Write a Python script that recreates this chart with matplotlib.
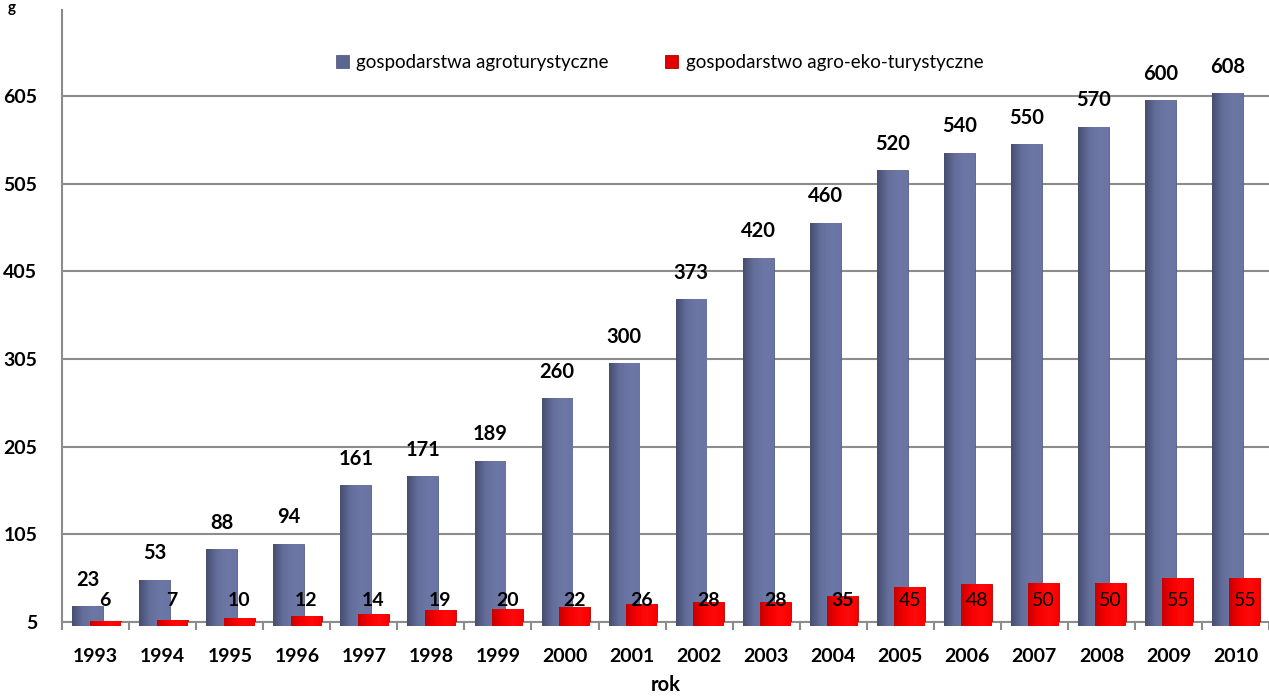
import matplotlib
matplotlib.use("Agg")
import matplotlib.pyplot as plt
from matplotlib.colors import LinearSegmentedColormap
import numpy as np

plt.rcParams['font.family'] = ['Lato', 'DejaVu Sans']

years = ['1993', '1994', '1995', '1996', '1997', '1998', '1999', '2000', '2001',
         '2002', '2003', '2004', '2005', '2006', '2007', '2008', '2009', '2010']
agro = [23, 53, 88, 94, 161, 171, 189, 260, 300, 373, 420, 460, 520, 540, 550, 570, 600, 608]
eko = [6, 7, 10, 12, 14, 19, 20, 22, 26, 28, 28, 35, 45, 48, 50, 50, 55, 55]
yticks = [5, 105, 205, 305, 405, 505, 605]

blue = '#67719d'
red = '#f20000'
grid_c = '#8c8c8c'

fig = plt.figure(figsize=(12.69, 6.97), dpi=100)
ax = fig.add_axes([0.049, 0.1076, 0.951, 0.878])

x = np.arange(len(years))
w = 0.46
b1 = ax.bar(x - 0.12, agro, w, color=blue, edgecolor='#555e85', linewidth=0.6,
            label='gospodarstwa agroturystyczne', zorder=3)
b2 = ax.bar(x + 0.14, eko, w, color=red, edgecolor='#b00000', linewidth=0.6,
            label='gospodarstwo agro-eko-turystyczne', zorder=4)

# horizontal shading on the bars, darker at the left edge
cm_blue = LinearSegmentedColormap.from_list('b', ['#464e70', '#636d99', '#6c77a6', '#6a75a3'])
cm_red = LinearSegmentedColormap.from_list('r', ['#c80000', '#f50000', '#ff0a0a', '#f70000'])
grad = np.linspace(0, 1, 64).reshape(1, -1)
for bars, cm, z in [(b1, cm_blue, 3), (b2, cm_red, 4)]:
    for p in bars:
        x0, y0 = p.get_x(), p.get_y()
        im = ax.imshow(grad, cmap=cm, aspect='auto', zorder=z, interpolation='bicubic',
                       extent=[x0, x0 + p.get_width(), y0, y0 + p.get_height()])
        im.set_clip_path(p)

for xi, v in zip(x, agro):
    ax.annotate(str(v), (xi - 0.12, v), xytext=(0, 12), textcoords='offset points',
                ha='center', va='bottom', fontsize=14.5, fontweight='bold', zorder=5)
for xi, v in zip(x, eko):
    weight = 'bold' if v < 45 else 'normal'
    ax.text(xi + 0.14, 29, str(v), ha='center', va='center', fontsize=14,
            fontweight=weight, zorder=5)

ax.set_xlim(-0.5, len(years) - 0.5)
ax.set_ylim(5, 703)
ax.set_yticks(yticks)
ax.set_yticklabels([str(t) for t in yticks], fontsize=14, fontweight='bold')
ax.set_xticks(x)
ax.set_xticklabels(years, fontsize=14, fontweight='bold')
ax.set_xticks(np.arange(len(years) + 1) - 0.5, minor=True)
ax.tick_params(axis='x', which='major', length=0, pad=19)
ax.tick_params(axis='x', which='minor', length=6, color=grid_c, width=1.5)
ax.tick_params(axis='y', length=0, pad=18)

ax.yaxis.grid(True, color=grid_c, linewidth=1.5, zorder=0)
ax.set_axisbelow(True)
for s in ['top', 'right']:
    ax.spines[s].set_visible(False)
for s in ['left', 'bottom']:
    ax.spines[s].set_color(grid_c)
    ax.spines[s].set_linewidth(1.5)

ax.set_xlabel('rok', fontsize=14.5, fontweight='bold', labelpad=7)

leg = ax.legend(loc='upper center', bbox_to_anchor=(0.495, 0.955), ncol=2, frameon=False,
                fontsize=13.5, handlelength=0.7, handleheight=0.7, columnspacing=3.0,
                handletextpad=0.4)
for h, c in zip(leg.legend_handles, ['#5b6690', '#e00000']):
    h.set_facecolor(c)

fig.text(0.006, 0.999, 'g', fontsize=11, fontweight='bold', va='top', ha='left')

fig.savefig('out.png', dpi=100)
